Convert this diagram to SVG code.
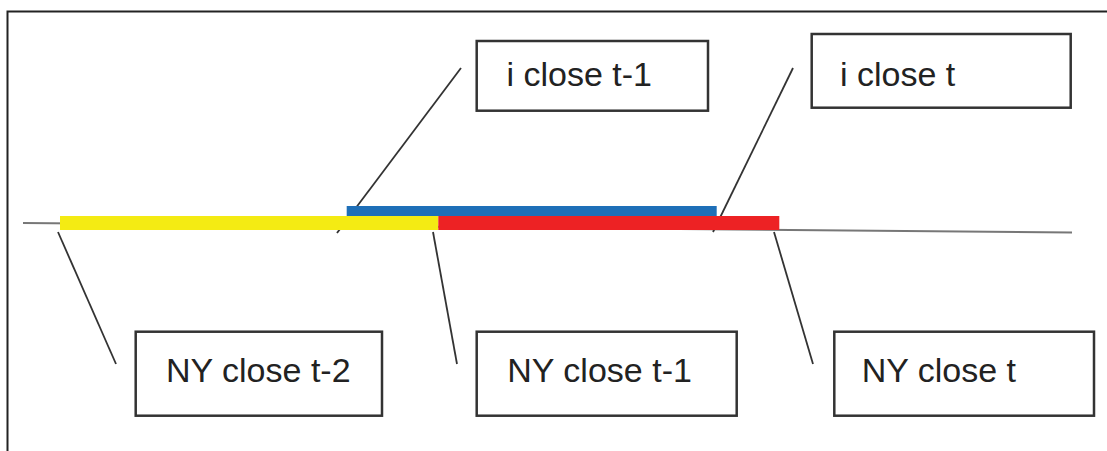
<svg xmlns="http://www.w3.org/2000/svg" width="1107" height="451" viewBox="0 0 1107 451">
  <style>
    .frame { fill: none; stroke: #222; stroke-width: 2; }
    .box { fill: #fff; stroke: #333; stroke-width: 2.5; }
    .label { font-family: "Liberation Sans", Arial, sans-serif; font-size: 34px; fill: #222; }
    .lead { stroke: #333; stroke-width: 1.8; fill: none; }
    .axis { stroke: #777; stroke-width: 2; fill: none; }
  </style>

  <rect width="1107" height="451" fill="#fff"/>
  <!-- outer border, runs past the right and bottom edges -->
  <rect class="frame" x="7.5" y="11.5" width="1110" height="450"/>

  <!-- connectors: timeline axis and leader lines -->
  <g id="connectors">
    <line class="axis" x1="23" y1="223" x2="1072" y2="232.5"/>
    <line class="lead" x1="461" y1="68" x2="337" y2="233"/>
    <line class="lead" x1="793" y1="68" x2="713" y2="232"/>
    <line class="lead" x1="58" y1="232" x2="116" y2="364"/>
    <line class="lead" x1="433" y1="232" x2="457" y2="364"/>
    <line class="lead" x1="774" y1="232" x2="813" y2="364"/>
  </g>

  <!-- session bars -->
  <g id="bars">
    <rect x="346.7" y="206" width="370" height="10" fill="#1e6fb8"/>
    <rect x="60" y="216" width="378.3" height="14" fill="#f4eb13"/>
    <rect x="438.3" y="216" width="341" height="14" fill="#ed2224"/>
  </g>

  <g id="i-close-t-1">
    <rect class="box" x="476.7" y="41" width="231.3" height="69.7"/>
    <text class="label" x="506.5" y="86">i close t-1</text>
  </g>

  <g id="i-close-t">
    <rect class="box" x="811.7" y="34" width="259" height="73.7"/>
    <text class="label" x="840" y="86">i close t</text>
  </g>

  <g id="ny-close-t-2">
    <rect class="box" x="135.7" y="331.7" width="246.3" height="84"/>
    <text class="label" x="166" y="381.7">NY close t-2</text>
  </g>

  <g id="ny-close-t-1">
    <rect class="box" x="476.7" y="331.7" width="260" height="84"/>
    <text class="label" x="507.3" y="381.7">NY close t-1</text>
  </g>

  <g id="ny-close-t">
    <rect class="box" x="834.3" y="331.7" width="259.7" height="84"/>
    <text class="label" x="861.7" y="381.7">NY close t</text>
  </g>
</svg>
